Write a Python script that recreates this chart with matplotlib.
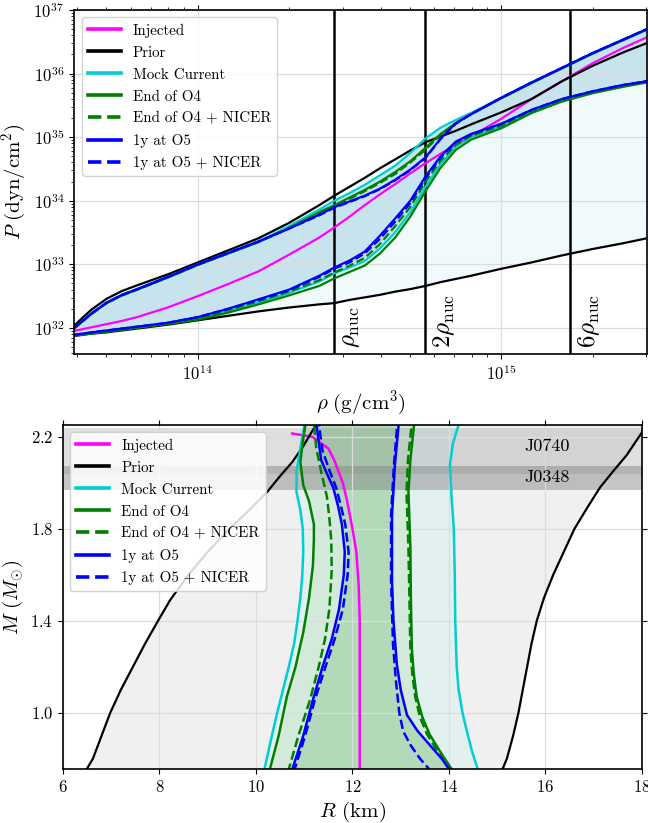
import numpy as np
import matplotlib
matplotlib.use("Agg")
import matplotlib.pyplot as plt

plt.rcParams['font.family'] = 'serif'
plt.rcParams['font.serif'] = ['cmr10']
plt.rcParams['mathtext.fontset'] = 'cm'
plt.rcParams['axes.formatter.use_mathtext'] = True
plt.rcParams['axes.unicode_minus'] = False

# ---------------- top panel: P(rho), values in log10 ----------------
logrho = [13.59, 13.62, 13.65, 13.7, 13.75, 13.8, 13.9, 14.0, 14.1, 14.2, 14.3, 14.4, 14.45, 14.5,
          14.55, 14.6, 14.65, 14.7, 14.75, 14.8, 14.85, 14.9, 15.0, 15.1, 15.2, 15.3, 15.4, 15.48]

prior_hi = [32.02, 32.16, 32.29, 32.46, 32.58, 32.67, 32.84, 33.03, 33.22, 33.41, 33.65, 33.93, 34.08, 34.22,
            34.36, 34.51, 34.65, 34.79, 34.92, 35.01, 35.1, 35.2, 35.39, 35.6, 35.88, 36.12, 36.33, 36.48]
prior_lo = [31.87, 31.89, 31.91, 31.93, 31.96, 31.99, 32.05, 32.12, 32.19, 32.26, 32.32, 32.37, 32.39, 32.44,
            32.48, 32.52, 32.57, 32.61, 32.66, 32.72, 32.77, 32.82, 32.93, 33.03, 33.14, 33.24, 33.33, 33.41]
inj_p = [31.95, 31.98, 32.01, 32.06, 32.11, 32.17, 32.32, 32.5, 32.69, 32.89, 33.15, 33.42, 33.58, 33.75,
         33.93, 34.1, 34.26, 34.43, 34.59, 34.74, 34.88, 35.01, 35.29, 35.6, 35.88, 36.16, 36.4, 36.57]

cur_hi = [31.99, 32.11, 32.23, 32.4, 32.52, 32.61, 32.8, 33.0, 33.18, 33.36, 33.6, 33.86, 34.0, 34.12,
          34.25, 34.4, 34.55, 34.75, 34.98, 35.15, 35.27, 35.38, 35.62, 35.86, 36.09, 36.32, 36.53, 36.7]
cur_lo = [31.88, 31.9, 31.92, 31.95, 31.98, 32.01, 32.07, 32.14, 32.26, 32.4, 32.55, 32.73, 32.86, 32.95,
          33.05, 33.25, 33.5, 33.82, 34.22, 34.58, 34.85, 35.0, 35.17, 35.4, 35.58, 35.7, 35.8, 35.87]
o4_hi = [31.98, 32.1, 32.22, 32.39, 32.51, 32.6, 32.79, 32.99, 33.17, 33.35, 33.57, 33.82, 33.93, 34.05,
         34.17, 34.3, 34.45, 34.62, 34.83, 35.05, 35.22, 35.36, 35.61, 35.85, 36.08, 36.31, 36.52, 36.69]
o4_lo = [31.88, 31.9, 31.91, 31.94, 31.97, 32.0, 32.06, 32.13, 32.24, 32.37, 32.51, 32.66, 32.78, 32.88,
         32.98, 33.17, 33.42, 33.75, 34.15, 34.52, 34.8, 34.96, 35.14, 35.38, 35.56, 35.69, 35.79, 35.86]
o4n_hi = [31.98, 32.1, 32.22, 32.39, 32.51, 32.6, 32.79, 32.99, 33.17, 33.35, 33.57, 33.81, 33.92, 34.03,
          34.15, 34.28, 34.42, 34.6, 34.8, 35.04, 35.22, 35.36, 35.62, 35.86, 36.09, 36.32, 36.53, 36.7]
o4n_lo = [31.88, 31.9, 31.92, 31.95, 31.98, 32.01, 32.07, 32.15, 32.28, 32.42, 32.57, 32.75, 32.87, 32.98,
          33.1, 33.32, 33.6, 33.9, 34.3, 34.63, 34.88, 35.02, 35.18, 35.41, 35.59, 35.71, 35.81, 35.88]
o5_hi = [31.99, 32.11, 32.23, 32.4, 32.52, 32.61, 32.8, 33.0, 33.18, 33.36, 33.56, 33.78, 33.9, 33.99,
         34.08, 34.19, 34.33, 34.49, 34.68, 34.98, 35.22, 35.36, 35.62, 35.86, 36.09, 36.32, 36.53, 36.7]
o5_lo = [31.89, 31.91, 31.93, 31.96, 31.99, 32.02, 32.08, 32.17, 32.3, 32.45, 32.6, 32.82, 32.95, 33.06,
         33.2, 33.45, 33.72, 34.0, 34.38, 34.7, 34.93, 35.05, 35.21, 35.43, 35.6, 35.72, 35.82, 35.88]
o5n_hi = [31.99, 32.11, 32.23, 32.4, 32.52, 32.61, 32.8, 33.0, 33.18, 33.36, 33.56, 33.77, 33.89, 33.98,
          34.07, 34.18, 34.32, 34.48, 34.67, 34.97, 35.21, 35.36, 35.62, 35.86, 36.09, 36.32, 36.53, 36.7]
o5n_lo = [31.89, 31.91, 31.93, 31.96, 31.99, 32.02, 32.08, 32.17, 32.3, 32.44, 32.59, 32.8, 32.93, 33.03,
          33.17, 33.4, 33.67, 33.96, 34.35, 34.68, 34.92, 35.04, 35.21, 35.43, 35.6, 35.72, 35.82, 35.88]

rho_nuc = 2.8e14
nuc_mult = [1, 2, 6]
nuc_labels = [r'$\rho_{\rm nuc}$', r'$2\rho_{\rm nuc}$', r'$6\rho_{\rm nuc}$']

# ---------------- bottom panel: M(R) ----------------
prior_l_m = [0.74, 0.8, 0.9, 1.0, 1.1, 1.2, 1.3, 1.4, 1.49, 1.6, 1.7, 1.8, 1.88, 1.96, 2.03, 2.09, 2.16, 2.22, 2.27]
prior_l_r = [6.45, 6.62, 6.8, 6.98, 7.2, 7.45, 7.7, 7.97, 8.22, 8.6, 9.0, 9.45, 9.85, 10.23, 10.5, 10.75, 10.98, 11.15, 11.3]
prior_r_m = [0.74, 0.8, 0.9, 1.0, 1.1, 1.2, 1.3, 1.4, 1.5, 1.6, 1.7, 1.8, 1.89, 1.98, 2.05, 2.12, 2.22, 2.27]
prior_r_r = [15.08, 15.2, 15.33, 15.44, 15.53, 15.62, 15.71, 15.82, 15.97, 16.16, 16.38, 16.6, 16.86, 17.13, 17.4, 17.68, 18.0, 18.15]

cur_l_m = [0.74, 0.9, 1.0, 1.1, 1.2, 1.3, 1.4, 1.5, 1.6, 1.7, 1.8, 1.88, 1.96, 2.05, 2.15, 2.26]
cur_l_r = [10.16, 10.33, 10.44, 10.56, 10.68, 10.79, 10.86, 10.92, 10.96, 10.98, 10.97, 10.92, 10.84, 10.84, 10.92, 11.01]
cur_r_m = [0.74, 0.83, 0.92, 1.0, 1.1, 1.2, 1.4, 1.6, 1.8, 1.95, 2.08, 2.17, 2.26]
cur_r_r = [14.62, 14.48, 14.37, 14.28, 14.2, 14.16, 14.13, 14.12, 14.1, 14.05, 14.02, 14.08, 14.21]

o4_l_m = [0.74, 0.9, 1.07, 1.2, 1.35, 1.5, 1.64, 1.75, 1.82, 1.92, 1.99, 2.09, 2.18, 2.26]
o4_l_r = [10.27, 10.47, 10.64, 10.82, 10.98, 11.1, 11.18, 11.2, 11.2, 11.1, 10.98, 10.92, 10.97, 11.03]
o4_r_m = [0.74, 0.82, 0.905, 0.98, 1.07, 1.17, 1.28, 1.5, 1.72, 1.96, 2.1, 2.26]
o4_r_r = [14.1, 13.85, 13.6, 13.45, 13.33, 13.27, 13.23, 13.21, 13.2, 13.16, 13.2, 13.28]

o4n_l_m = [0.74, 0.9, 1.056, 1.2, 1.32, 1.45, 1.62, 1.75, 1.85, 1.94, 2.05, 2.15, 2.26]
o4n_l_r = [10.66, 10.88, 11.12, 11.3, 11.43, 11.52, 11.57, 11.56, 11.52, 11.47, 11.35, 11.25, 11.2]
o4n_r_m = [0.74, 0.82, 0.905, 0.98, 1.07, 1.17, 1.28, 1.5, 1.72, 1.96, 2.1, 2.26]
o4n_r_r = [14.06, 13.8, 13.55, 13.4, 13.3, 13.24, 13.2, 13.18, 13.16, 13.12, 13.15, 13.23]

o5_l_m = [0.74, 0.9, 1.056, 1.2, 1.32, 1.45, 1.6, 1.7, 1.82, 1.9, 1.98, 2.05, 2.1, 2.26]
o5_l_r = [10.73, 10.98, 11.18, 11.38, 11.57, 11.72, 11.82, 11.84, 11.78, 11.7, 11.6, 11.45, 11.35, 11.25]
o5_r_m = [0.74, 0.8, 0.86, 0.92, 0.99, 1.1, 1.21, 1.4, 1.57, 1.86, 2.08, 2.26]
o5_r_r = [14.05, 13.85, 13.6, 13.35, 13.13, 13.0, 12.92, 12.85, 12.82, 12.82, 12.88, 12.96]

o5n_l_m = [0.74, 0.9, 1.056, 1.2, 1.32, 1.45, 1.6, 1.7, 1.82, 1.9, 1.98, 2.05, 2.14, 2.26]
o5n_l_r = [10.78, 11.02, 11.22, 11.44, 11.63, 11.8, 11.9, 11.92, 11.85, 11.76, 11.66, 11.53, 11.38, 11.3]
o5n_r_m = [0.74, 0.8, 0.86, 0.92, 1.0, 1.14, 1.3, 1.57, 1.86, 2.08, 2.26]
o5n_r_r = [13.65, 13.4, 13.2, 13.05, 12.97, 12.9, 12.84, 12.8, 12.8, 12.86, 12.93]

inj_m = [2.215, 2.2, 2.18, 2.15, 2.1, 2.0, 1.93, 1.8, 1.7, 1.55, 1.4, 1.0, 0.74]
inj_r = [10.75, 11.18, 11.3, 11.5, 11.62, 11.8, 11.88, 12.0, 12.08, 12.13, 12.15, 12.15, 12.15]

psr_names = ['J0740', 'J0348']
psr_lo = [2.04, 1.97]
psr_hi = [2.24, 2.075]
psr_text_m = [2.157, 2.026]
psr_alpha = [0.25, 0.45]

labels = ['Injected', 'Prior', 'Mock Current', 'End of O4', 'End of O4 + NICER',
          '1y at O5', '1y at O5 + NICER']

fig = plt.figure(figsize=(6.48, 8.23), dpi=100)
ax1 = fig.add_axes([0.1142, 0.5699, 0.8843, 0.418])
ax2 = fig.add_axes([0.0972, 0.0656, 0.8935, 0.418])

rho = 10 ** np.array(logrho)
p = lambda a: 10 ** np.array(a)

ax1.fill_between(rho, p(prior_lo), p(prior_hi), color='#f0fafc', lw=0, zorder=1)
ax1.fill_between(rho, p(cur_lo), p(cur_hi), color='#c6e3ee', lw=0, zorder=1.1)
for m in nuc_mult:
    ax1.axvline(m * rho_nuc, color='k', lw=1.8, zorder=3)
ax1.plot(rho, p(inj_p), color='magenta', lw=1.6, label=labels[0], zorder=4)
ax1.plot(rho, p(prior_hi), color='k', lw=1.6, label=labels[1], zorder=4)
ax1.plot(rho, p(prior_lo), color='k', lw=1.6, zorder=4)
top_sets = [(cur_hi, cur_lo, 'darkturquoise', '-'), (o4_hi, o4_lo, 'green', '-'),
            (o4n_hi, o4n_lo, 'green', '--'), (o5_hi, o5_lo, 'blue', '-'),
            (o5n_hi, o5n_lo, 'blue', '--')]
for (hi, lo, c, ls), lab in zip(top_sets, labels[2:]):
    ax1.plot(rho, p(hi), color=c, ls=ls, lw=1.6, label=lab, zorder=4)
    ax1.plot(rho, p(lo), color=c, ls=ls, lw=1.6, zorder=4)

for m, t in zip(nuc_mult, nuc_labels):
    ax1.text(m * rho_nuc * 1.05, 10 ** 31.68, t, rotation=90, ha='left', va='bottom',
             fontsize=18, zorder=5)

ax1.set_xscale('log')
ax1.set_yscale('log')
ax1.set_xlim(10 ** 13.592, 10 ** 15.48)
ax1.set_ylim(10 ** 31.59, 1e37)
ax1.set_xlabel(r'$\rho\ (\mathrm{g/cm^3})$', fontsize=15)
ax1.set_ylabel(r'$P\ (\mathrm{dyn/cm^2})$', fontsize=15)

# bottom panel
ax2.fill(np.concatenate([prior_l_r, prior_r_r[::-1]]), np.concatenate([prior_l_m, prior_r_m[::-1]]),
         color='#f0f0f0', lw=0, zorder=1)
ax2.fill(np.concatenate([cur_l_r, cur_r_r[::-1]]), np.concatenate([cur_l_m, cur_r_m[::-1]]),
         color='#e3f0f0', lw=0, zorder=1.1)
ax2.fill(np.concatenate([o4_l_r, o4_r_r[::-1]]), np.concatenate([o4_l_m, o4_r_m[::-1]]),
         color='#d3e9da', lw=0, zorder=1.2)
ax2.fill(np.concatenate([o5_l_r, o5_r_r[::-1]]), np.concatenate([o5_l_m, o5_r_m[::-1]]),
         color='#b2d9b8', lw=0, zorder=1.3)
for lo, hi, a in zip(psr_lo, psr_hi, psr_alpha):
    ax2.axhspan(lo, hi, color='gray', alpha=a, lw=0, zorder=2)
for name, ym in zip(psr_names, psr_text_m):
    ax2.text(16.03, ym, name, ha='center', va='center', fontsize=13, zorder=5)

ax2.plot(inj_r, inj_m, color='magenta', lw=1.8, label=labels[0], zorder=4)
ax2.plot(prior_l_r, prior_l_m, color='k', lw=1.6, label=labels[1], zorder=4)
ax2.plot(prior_r_r, prior_r_m, color='k', lw=1.6, zorder=4)
bot_sets = [(cur_l_r, cur_l_m, cur_r_r, cur_r_m, 'darkturquoise', '-'),
            (o4_l_r, o4_l_m, o4_r_r, o4_r_m, 'green', '-'),
            (o4n_l_r, o4n_l_m, o4n_r_r, o4n_r_m, 'green', '--'),
            (o5_l_r, o5_l_m, o5_r_r, o5_r_m, 'blue', '-'),
            (o5n_l_r, o5n_l_m, o5n_r_r, o5n_r_m, 'blue', '--')]
for (lr, lm, rr, rm, c, ls), lab in zip(bot_sets, labels[2:]):
    ax2.plot(lr, lm, color=c, ls=ls, lw=1.8, label=lab, zorder=4)
    ax2.plot(rr, rm, color=c, ls=ls, lw=1.8, zorder=4)

ax2.set_xlim(6, 18)
ax2.set_ylim(0.755, 2.252)
ax2.set_xticks([6, 8, 10, 12, 14, 16, 18])
ax2.set_yticks([1.0, 1.4, 1.8, 2.2])
ax2.set_xlabel(r'$R$ (km)', fontsize=15)
ax2.set_ylabel(r'$M\ (M_{\odot})$', fontsize=15)

for ax in (ax1, ax2):
    ax.grid(True, color='#dcdcdc', lw=0.9, zorder=0)
    ax.set_axisbelow(False)
    ax.tick_params(which='both', top=True, right=True, direction='out', labelsize=12)
    for sp in ax.spines.values():
        sp.set_linewidth(1.2)
        sp.set_zorder(6)
    leg = ax.legend(loc='upper left', fontsize=10.8, framealpha=0.85, handlelength=2.2,
                    labelspacing=0.55)
    leg.set_zorder(7)
    for ln in leg.get_lines():
        ln.set_linewidth(2.6)
for gl in ax1.get_xgridlines() + ax1.get_ygridlines() + ax2.get_xgridlines() + ax2.get_ygridlines():
    gl.set_zorder(1.5)

fig.savefig('out.png', dpi=100)
